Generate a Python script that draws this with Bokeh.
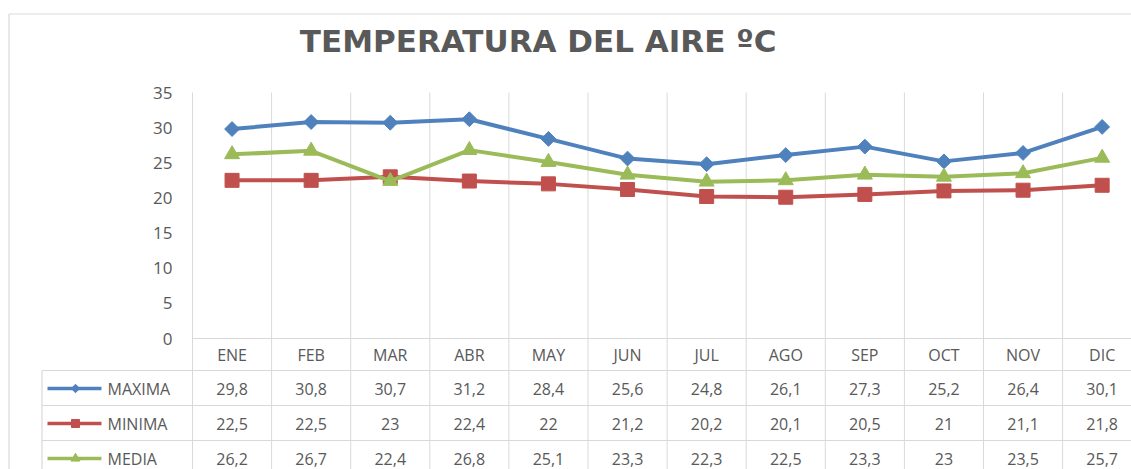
import numpy as np
from bokeh.plotting import figure
from bokeh.models import Range1d
from bokeh.core.properties import value
from bokeh.embed import file_html
from bokeh.resources import INLINE

# ---------------- data ----------------
months = ["ENE", "FEB", "MAR", "ABR", "MAY", "JUN", "JUL", "AGO", "SEP", "OCT", "NOV", "DIC"]
maxima = [29.8, 30.8, 30.7, 31.2, 28.4, 25.6, 24.8, 26.1, 27.3, 25.2, 26.4, 30.1]
minima = [22.5, 22.5, 23, 22.4, 22, 21.2, 20.2, 20.1, 20.5, 21, 21.1, 21.8]
media = [26.2, 26.7, 22.4, 26.8, 25.1, 23.3, 22.3, 22.5, 23.3, 23, 23.5, 25.7]
series_names = ["MAXIMA", "MINIMA", "MEDIA"]
y_ticks = [0, 5, 10, 15, 20, 25, 30, 35]
title_text = "TEMPERATURA  DEL AIRE ºC"

# ---------------- styling / layout ----------------
W, H = 1131, 469
OFF = 0                      # page offset of the canvas
PX0, CAT_W = 192.0, 79.1     # left edge of first category, width of a category (page px)
PY0 = 338.0                  # page y of value 0
PY_UNIT = (338.0 - 92.0) / 35.0

def X(px):
    return (px - PX0) / CAT_W

def Y(py):
    return (PY0 - py) / PY_UNIT

TXT = "#595959"
GRID = "#d9d9d9"
FONT = value("Open Sans")
colors = ["#4F81BD", "#C0504D", "#9BBB59"]
markers = ["square", "square", "triangle"]
angles = [np.pi / 4, 0, 0]
msizes = [10.5, 14, 15]
lmsizes = [6, 8, 9]

p = figure(width=W, height=H,
           x_range=Range1d(X(OFF), X(OFF + W)),
           y_range=Range1d(Y(OFF + H), Y(OFF)),
           x_axis_type=None, y_axis_type=None,
           output_backend="svg", toolbar_location=None, min_border=0)
p.grid.visible = False
p.outline_line_color = None
p.background_fill_color = "white"
p.border_fill_color = "white"

n = len(months)
xc = [i + 0.5 for i in range(n)]

# outer chart border
p.segment(x0=[X(8.5), X(8.5)], y0=[Y(13.5), Y(13.5)], x1=[X(1140), X(8.5)], y1=[Y(13.5), Y(480)],
          line_color=GRID, line_width=1.2)

# vertical category gridlines (chart + data table)
p.segment(x0=list(range(n + 1)), y0=[y_ticks[-1]] * (n + 1),
          x1=list(range(n + 1)), y1=[Y(480)] * (n + 1), line_color=GRID, line_width=1)
# category axis line
p.segment(x0=[0], y0=[0], x1=[X(1140)], y1=[0], line_color=GRID, line_width=1.2)
# table row lines
row_tops = [370, 405, 440]
p.segment(x0=[X(41.5)] * 3, y0=[Y(v) for v in row_tops], x1=[X(1140)] * 3, y1=[Y(v) for v in row_tops],
          line_color=GRID, line_width=1.2)
p.segment(x0=[X(41.5)], y0=[Y(370)], x1=[X(41.5)], y1=[Y(480)], line_color=GRID, line_width=1.2)

# title
p.text(x=[X(543)], y=[Y(40)], text=[title_text], text_font=value("DejaVu Sans"), text_font_size="31px",
       text_font_style="bold", text_color=TXT, text_align="center", text_baseline="middle")

# y tick labels
p.text(x=[X(172)] * len(y_ticks), y=y_ticks, text=[str(t) for t in y_ticks], text_font=FONT,
       text_font_size="17px", text_color=TXT, text_align="right", text_baseline="middle")

# category labels (table header)
p.text(x=xc, y=[Y(354)] * n, text=months, text_font=FONT, text_font_size="16px",
       text_color=TXT, text_align="center", text_baseline="middle")

# series
all_series = [maxima, minima, media]
for vals, c, m, a, s in zip(all_series, colors, markers, angles, msizes):
    p.line(xc, vals, line_color=c, line_width=4, line_join="round")
    p.scatter(xc, vals, marker=m, angle=a, size=s, fill_color=c, line_color=c, line_width=1)

# data table rows
def fmt(v):
    return ("%g" % v).replace(".", ",")

row_centers = [388, 423, 458]
for r, (name, vals, c, m, a, s) in enumerate(zip(series_names, all_series, colors, markers, angles, lmsizes)):
    yy = Y(row_centers[r])
    p.text(x=xc, y=[yy] * n, text=[fmt(v) for v in vals], text_font=FONT, text_font_size="16px",
           text_color=TXT, text_align="center", text_baseline="middle")
    p.text(x=[X(107)], y=[yy], text=[name], text_font=FONT, text_font_size="16px",
           text_color=TXT, text_align="left", text_baseline="middle")
    p.segment(x0=[X(47)], y0=[yy], x1=[X(101)], y1=[yy], line_color=c, line_width=3.5)
    p.scatter([X(75)], [yy], marker=m, angle=a, size=s, fill_color=c, line_color=c)

open("out.html", "w").write(file_html(p, INLINE))
